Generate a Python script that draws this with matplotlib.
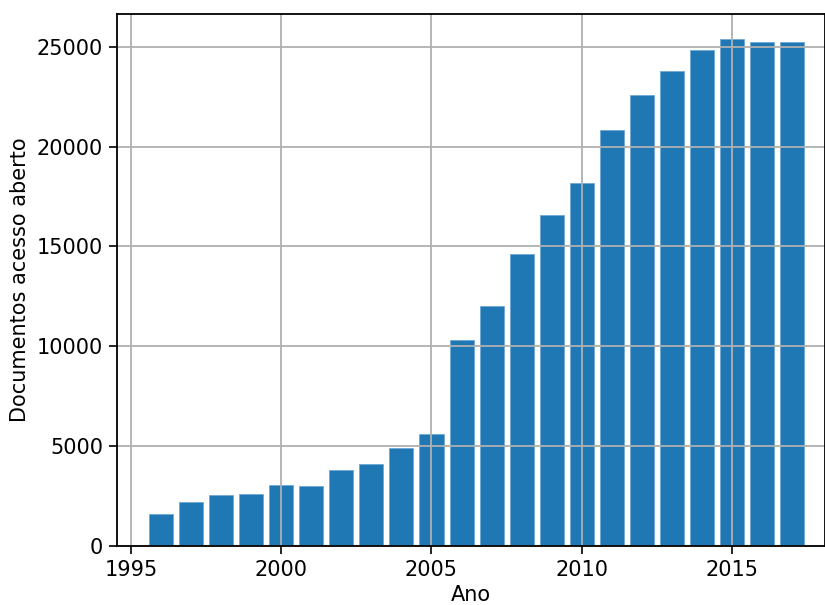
import matplotlib
matplotlib.use('Agg')
import matplotlib.pyplot as plt

anos = [1996, 1997, 1998, 1999, 2000, 2001, 2002, 2003, 2004, 2005, 2006,
        2007, 2008, 2009, 2010, 2011, 2012, 2013, 2014, 2015, 2016, 2017]
documentos = [1590, 2180, 2530, 2620, 3030, 2980, 3830, 4130, 4930, 5630, 10320,
              12030, 14620, 16550, 18200, 20830, 22580, 23800, 24820, 25370, 25230, 25230]


def gerar_grafico():
    fig = plt.figure(figsize=(8.25, 6.05), dpi=100)
    ax = fig.add_axes([0.1418, 0.0975, 0.8582, 0.8794])

    ax.bar(anos, documentos, color="#1f77b4", edgecolor="#6fa8d6", linewidth=0.6)
    ax.set_xlim(1994.53, 2018.1)
    ax.set_xticks([1995, 2000, 2005, 2010, 2015])
    ax.set_xlabel("Ano", fontsize=15, labelpad=4)
    ax.set_ylabel("Documentos acesso aberto", fontsize=15, labelpad=5)
    ax.tick_params(labelsize=15, length=6, width=1.2, pad=4)
    ax.grid(True, color="#b0b0b0", linewidth=1.3)
    for s in ax.spines.values():
        s.set_linewidth(1.3)

    fig.savefig("out.png", dpi=100)


if __name__ == "__main__":
    gerar_grafico()
